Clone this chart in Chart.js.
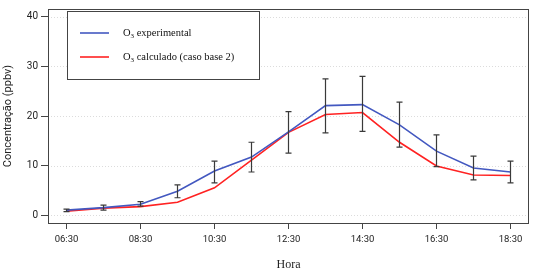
<!DOCTYPE html>
<html>
<head>
<meta charset="utf-8">
<script src="https://cdn.jsdelivr.net/npm/chart.js@4/dist/chart.umd.min.js"></script>
<style>
html,body{margin:0;padding:0;background:#fff;}
#c{display:block;}
</style>
</head>
<body>
<canvas id="c" width="536" height="275"></canvas>
<script>
const hours = ['06:30','07:30','08:30','09:30','10:30','11:30','12:30','13:30','14:30','15:30','16:30','17:30','18:30'];
const experimental = [1.0, 1.5, 2.2, 4.8, 8.9, 11.7, 16.8, 22.1, 22.3, 18.2, 12.9, 9.5, 8.7];
const calculado    = [0.8, 1.4, 1.7, 2.6, 5.5, 11.1, 16.7, 20.3, 20.7, 14.7, 9.9, 8.1, 8.0];
const errLow  = [0.7, 1.0, 1.8, 3.5, 6.5, 8.7, 12.5, 16.6, 16.9, 13.7, 9.8, 7.1, 6.5];
const errHigh = [1.2, 2.0, 2.7, 6.1, 10.9, 14.7, 20.9, 27.5, 28.0, 22.8, 16.2, 11.9, 10.9];
const yTicks = [0, 10, 20, 30, 40];
const legendLabels = [['O','3',' experimental'], ['O','3',' calculado (caso base 2)']];

const BLUE = '#4358c0';
const RED = '#ff2222';

const boxPlugin = {
  id: 'boxPlugin',
  beforeDatasetsDraw(chart) {
    const ctx = chart.ctx, a = chart.chartArea, y = chart.scales.y;
    ctx.save();
    ctx.strokeStyle = '#dcdcdc';
    ctx.lineWidth = 1;
    ctx.setLineDash([1, 2]);
    yTicks.forEach(v => {
      const py = Math.round(y.getPixelForValue(v)) + 0.5;
      ctx.beginPath(); ctx.moveTo(a.left, py); ctx.lineTo(a.right, py); ctx.stroke();
    });
    ctx.restore();
  },
  afterDatasetsDraw(chart) {
    const ctx = chart.ctx, a = chart.chartArea, x = chart.scales.x, y = chart.scales.y;
    ctx.save();
    // error bars
    ctx.strokeStyle = '#3a3a3a';
    ctx.lineWidth = 1.2;
    hours.forEach((h, i) => {
      const px = x.getPixelForValue(i);
      const y1 = y.getPixelForValue(errLow[i]);
      const y2 = y.getPixelForValue(errHigh[i]);
      ctx.beginPath();
      ctx.moveTo(px, y1); ctx.lineTo(px, y2);
      ctx.moveTo(px - 3, y1); ctx.lineTo(px + 3, y1);
      ctx.moveTo(px - 3, y2); ctx.lineTo(px + 3, y2);
      ctx.stroke();
    });
    // frame
    ctx.strokeStyle = '#444';
    ctx.lineWidth = 1;
    ctx.strokeRect(Math.round(a.left) + 0.5, Math.round(a.top) + 0.5, Math.round(a.right - a.left) - 1, Math.round(a.bottom - a.top));
    // legend
    const lx = 67, ly = 11, lw = 192, lh = 68;
    ctx.fillStyle = '#fff';
    ctx.fillRect(lx, ly, lw, lh);
    ctx.strokeStyle = '#444';
    ctx.strokeRect(lx + 0.5, ly + 0.5, lw, lh);
    const colors = [BLUE, RED];
    const rows = [33, 57];
    legendLabels.forEach((parts, i) => {
      ctx.strokeStyle = colors[i];
      ctx.lineWidth = 1.6;
      ctx.beginPath(); ctx.moveTo(80, rows[i]); ctx.lineTo(109, rows[i]); ctx.stroke();
      ctx.fillStyle = '#111';
      ctx.textBaseline = 'middle';
      ctx.textAlign = 'left';
      let tx = 123;
      ctx.font = '10.5px "Liberation Serif"';
      ctx.fillText(parts[0], tx, rows[i]);
      tx += ctx.measureText(parts[0]).width;
      ctx.font = '7px "Liberation Serif"';
      ctx.fillText(parts[1], tx, rows[i] + 3);
      tx += ctx.measureText(parts[1]).width;
      ctx.font = '10.5px "Liberation Serif"';
      ctx.fillText(parts[2], tx, rows[i]);
    });
    ctx.restore();
  }
};

new Chart(document.getElementById('c'), {
  type: 'line',
  data: {
    labels: hours,
    datasets: [
      { label: 'O3 experimental', data: experimental, borderColor: BLUE, borderWidth: 1.6, pointRadius: 0, tension: 0, fill: false },
      { label: 'O3 calculado (caso base 2)', data: calculado, borderColor: RED, borderWidth: 1.6, pointRadius: 0, tension: 0, fill: false }
    ]
  },
  options: {
    responsive: false,
    animation: false,
    layout: { padding: { top: 7, right: 7, left: 0, bottom: 0 } },
    plugins: { legend: { display: false }, tooltip: { enabled: false } },
    scales: {
      x: {
        type: 'category',
        offset: true,
        afterBuildTicks(scale) { scale.ticks = scale.ticks.filter((t, i) => i % 2 === 0); },
        afterFit(scale) { scale.height = 52; },
        grid: { display: true, drawOnChartArea: false, drawTicks: true, tickLength: 6, color: '#444', offset: false },
        border: { display: false },
        ticks: { color: '#222', font: { family: 'Roboto', size: 9.5 }, padding: 5, autoSkip: false, maxRotation: 0 },
        title: { display: true, text: 'Hora', color: '#222', font: { family: 'Liberation Serif', size: 12 }, padding: { top: 0, bottom: 3 } }
      },
      y: {
        min: -1.6,
        max: 41.6,
        afterBuildTicks(scale) { scale.ticks = yTicks.map(v => ({ value: v })); },
        afterFit(scale) { scale.width = 48; },
        grid: { display: true, drawOnChartArea: false, drawTicks: true, tickLength: 7, color: '#444' },
        border: { display: false },
        ticks: { color: '#222', font: { family: 'Roboto', size: 10 }, padding: 3 },
        title: { display: true, text: 'Concentração (ppbv)', color: '#222', font: { family: 'Roboto', size: 11 }, padding: { top: 2, bottom: 0 } }
      }
    }
  },
  plugins: [boxPlugin]
});
</script>
</body>
</html>
